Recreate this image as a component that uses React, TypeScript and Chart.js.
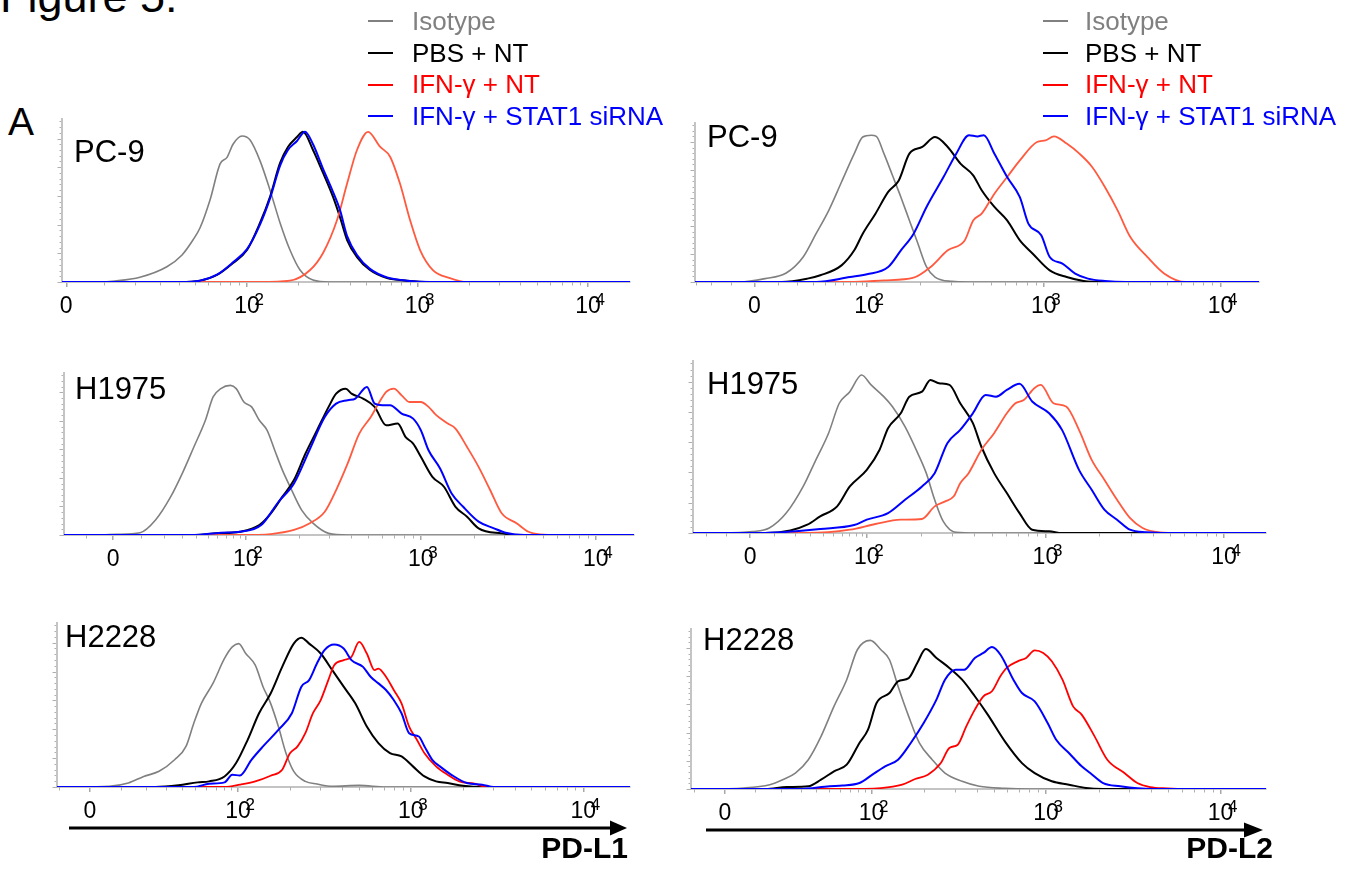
import React, { useEffect, useRef } from "react";
import { Chart, registerables } from "chart.js";

Chart.register(...registerables);

type Pt = [number, number];

// ---------------- data ----------------
const seriesNames = ["Isotype", "PBS + NT", "IFN-γ + NT", "IFN-γ + STAT1 siRNA"];
const cellLines = ["PC-9", "PC-9", "H1975", "H1975", "H2228", "H2228"];
const markerNames = ["PD-L1", "PD-L2"];
const tickLabels = ["0", "10^2", "10^3", "10^4"];
const tickValues = [1, 2, 3]; // display positions of 10², 10³, 10⁴ (the "0" tick is per panel)
// position of the "0" tick on each panel's display axis (10² = 1, 10³ = 2, 10⁴ = 3)
const zeroPositions = [-0.06, 0.363, 0.242, 0.347, 0.143, 0.16];

// x: display position (decades), y: % of axis height
const pc9L1Isotype: Pt[] = [[-0.1,0],[0.138,0],[0.226,0.6],[0.372,2.9],[0.53,9.3],[0.619,16.5],[0.683,25.6],[0.724,32.9],[0.783,50],[0.842,72],[0.883,76],[0.918,84],[0.971,89],[1.018,86.6],[1.076,74],[1.135,56],[1.194,36],[1.252,19.5],[1.311,7.3],[1.387,1.2],[1.487,0],[3.4,0]];
const pc9L1Pbs: Pt[] = [[-0.1,0],[0.607,0],[0.724,0.8],[0.824,4.3],[0.918,11.6],[1.0,19.5],[1.076,36],[1.135,52],[1.194,72.6],[1.24,82.3],[1.293,88.4],[1.328,91.6],[1.387,80.5],[1.446,66.5],[1.504,52],[1.545,39.6],[1.587,25.6],[1.645,15.2],[1.721,7.3],[1.821,2.4],[1.938,0.8],[2.073,0],[3.4,0]];
const pc9L1Ifn: Pt[] = [[-0.1,0],[1.076,0],[1.252,0.8],[1.37,7.3],[1.446,17.7],[1.528,37.8],[1.587,60],[1.645,80.5],[1.71,91.6],[1.78,82.5],[1.839,76.4],[1.897,60],[1.956,37.8],[2.015,19.5],[2.09,7.3],[2.19,2.4],[2.29,0],[3.4,0]];
const pc9L1Stat1: Pt[] = [[-0.1,0],[0.607,0],[0.724,0.8],[0.824,4.5],[0.918,12],[1.0,20],[1.076,35],[1.135,51],[1.194,71],[1.24,80.5],[1.293,86],[1.34,91.6],[1.387,84],[1.446,69],[1.504,55],[1.545,44],[1.587,28],[1.645,16.5],[1.721,8],[1.821,2.8],[1.938,0.8],[2.073,0],[3.4,0]];

const pc9L2Isotype: Pt[] = [[-0.1,0],[0.279,0],[0.423,2.1],[0.543,5.6],[0.639,15.6],[0.712,30.2],[0.784,44.8],[0.856,62.5],[0.928,80.2],[0.976,90.6],[1.024,91.7],[1.053,91],[1.096,80.2],[1.144,66.7],[1.192,53],[1.24,38.5],[1.288,24],[1.337,9.4],[1.385,3.1],[1.48,0.4],[1.577,0],[3.4,0]];
const pc9L2Pbs: Pt[] = [[-0.1,0],[0.519,0],[0.663,2.1],[0.736,4.2],[0.856,10.4],[0.928,19.8],[0.976,30.2],[1.048,42.7],[1.12,56.3],[1.18,63.5],[1.24,80.2],[1.313,84.4],[1.385,90.6],[1.457,84.4],[1.529,74],[1.601,66.7],[1.649,57.3],[1.721,46.9],[1.793,38.5],[1.865,26],[1.938,17.7],[2.034,7.3],[2.13,3.1],[2.226,0.6],[2.322,0],[3.4,0]];
const pc9L2Ifn: Pt[] = [[-0.1,0],[0.904,0],[1.096,1],[1.264,2.7],[1.36,9.4],[1.457,19.8],[1.553,26],[1.601,38.5],[1.649,42.7],[1.721,55.2],[1.793,65.6],[1.865,76],[1.962,87.5],[2.01,88.5],[2.058,91],[2.13,86.5],[2.202,80.2],[2.274,71.9],[2.346,59.4],[2.418,44.8],[2.49,28.1],[2.587,15.6],[2.683,5.2],[2.803,0],[3.4,0]];
const pc9L2Stat1: Pt[] = [[-0.1,0],[0.712,0],[0.904,3.1],[1.0,4.8],[1.12,9.4],[1.192,19.8],[1.264,30.2],[1.337,46.9],[1.433,65.6],[1.505,80.2],[1.577,91.7],[1.625,91],[1.661,91.7],[1.721,80.2],[1.793,65.6],[1.865,53],[1.913,36.5],[1.986,29.2],[2.034,15.6],[2.106,11.5],[2.178,5.2],[2.25,2.1],[2.346,0.6],[2.466,0],[3.4,0]];

const h1975L1Isotype: Pt[] = [[-0.1,0],[0.154,0],[0.264,0.4],[0.396,1.4],[0.484,9.2],[0.571,23.5],[0.637,37.8],[0.703,54],[0.769,70.4],[0.813,84.7],[0.857,89.8],[0.912,91.8],[0.945,89.8],[0.989,81.6],[1.033,78.6],[1.077,70.4],[1.121,64.3],[1.165,52],[1.209,39.8],[1.253,29.6],[1.319,15.3],[1.385,7.1],[1.473,1],[1.582,0],[3.4,0]];
const h1975L1Pbs: Pt[] = [[-0.1,0],[0.703,0],[0.835,1],[0.967,2],[1.077,6.1],[1.143,13.3],[1.209,23.5],[1.275,33.7],[1.341,50],[1.407,64.3],[1.473,78.6],[1.516,86.7],[1.571,89.8],[1.604,86.7],[1.67,83.7],[1.736,78.6],[1.802,67.3],[1.868,68.4],[1.912,60.2],[1.956,56.1],[2.0,48],[2.066,35.7],[2.132,29.6],[2.198,17.3],[2.264,11.2],[2.33,4.1],[2.462,1],[2.571,0],[3.4,0]];
const h1975L1Ifn: Pt[] = [[-0.1,0],[0.967,0],[1.143,0.6],[1.275,3.1],[1.363,7.1],[1.451,14.3],[1.516,27.6],[1.582,43.9],[1.648,62.2],[1.714,72.4],[1.758,80.6],[1.802,87.8],[1.846,89.8],[1.89,85.7],[1.934,81.6],[2.0,81.6],[2.044,78.6],[2.088,73.5],[2.154,68.4],[2.198,65.3],[2.264,54],[2.33,41.8],[2.396,27.6],[2.462,13.3],[2.549,7.1],[2.615,2],[2.681,0.4],[2.791,0],[3.4,0]];
const h1975L1Stat1: Pt[] = [[-0.1,0],[0.703,0],[0.857,1.4],[0.967,2],[1.088,6.1],[1.187,20.4],[1.275,31.6],[1.363,52],[1.451,72.4],[1.516,80.6],[1.582,82.7],[1.626,83.7],[1.692,90.8],[1.736,80.6],[1.78,79.6],[1.824,79.6],[1.89,74.5],[1.956,71.4],[2.0,64.3],[2.044,52],[2.11,40.8],[2.176,25.5],[2.242,17.3],[2.33,8.2],[2.418,4.1],[2.484,1.4],[2.593,0],[3.4,0]];

const h1975L2Isotype: Pt[] = [[-0.1,0],[0.192,0],[0.359,0.8],[0.454,2.9],[0.549,11.5],[0.644,26.9],[0.715,42.3],[0.786,57.7],[0.846,75],[0.905,81.7],[0.971,91.3],[1.024,85.6],[1.095,78.8],[1.143,73.1],[1.214,61.5],[1.285,46.2],[1.333,34.6],[1.38,19.2],[1.428,6.7],[1.499,0.4],[1.618,0],[3.4,0]];
const h1975L2Pbs: Pt[] = [[-0.1,0],[0.43,0],[0.572,1.5],[0.667,4.8],[0.739,9.6],[0.834,15.4],[0.905,26.9],[1.0,36.5],[1.071,48],[1.119,60.6],[1.19,69.2],[1.238,78.8],[1.309,81.7],[1.356,88.5],[1.404,86.5],[1.463,85.6],[1.523,75],[1.594,63.5],[1.641,50],[1.713,34.6],[1.784,23.1],[1.855,11.5],[1.926,1.9],[2.021,1],[2.093,0],[3.4,0]];
const h1975L2Ifn: Pt[] = [[-0.1,0],[0.667,0],[0.905,1.9],[1.048,5.2],[1.19,7.7],[1.309,8.1],[1.38,15.4],[1.439,18.3],[1.487,21.2],[1.523,28.8],[1.57,34.6],[1.641,48],[1.713,57.7],[1.784,69.2],[1.832,75],[1.879,76.9],[1.938,83.7],[1.974,85.6],[2.045,75],[2.116,73.1],[2.188,59.6],[2.259,42.3],[2.33,30.8],[2.401,19.2],[2.473,8.7],[2.544,2.9],[2.639,0.4],[2.758,0],[3.4,0]];
const h1975L2Stat1: Pt[] = [[-0.1,0],[0.43,0],[0.62,1.2],[0.739,2.3],[0.929,4.6],[1.0,7.7],[1.119,11.5],[1.214,19.2],[1.309,26.9],[1.38,34.6],[1.451,51.9],[1.523,59.6],[1.594,69.2],[1.665,79.8],[1.724,78.8],[1.784,82.7],[1.855,86.2],[1.926,76],[2.021,69.2],[2.093,59.6],[2.188,36.5],[2.259,25],[2.33,13.5],[2.401,7.7],[2.473,1.9],[2.568,0.4],[2.686,0],[3.4,0]];

const h2228L1Isotype: Pt[] = [[-0.1,0],[0.076,0],[0.254,0.4],[0.365,2.4],[0.454,6.4],[0.543,9.5],[0.633,16.5],[0.699,24.6],[0.744,38.6],[0.788,50.7],[0.855,62.8],[0.922,77.9],[0.967,84.9],[1.004,86.9],[1.045,80.9],[1.1,73.8],[1.145,60.8],[1.189,50.7],[1.234,36.6],[1.278,20.5],[1.323,9.5],[1.39,3.4],[1.457,1.8],[1.546,0.4],[1.702,1],[1.857,0],[3.4,0]];
const h2228L1Pbs: Pt[] = [[-0.1,0],[0.521,0],[0.655,1],[0.766,2.8],[0.833,3.4],[0.922,6.4],[0.989,14.5],[1.056,28.6],[1.122,44.7],[1.189,56.7],[1.256,72.8],[1.323,86.9],[1.367,90.5],[1.412,86.9],[1.479,80.9],[1.546,70.8],[1.612,60.8],[1.679,50.7],[1.746,36.6],[1.813,26.6],[1.88,20.5],[1.947,18.5],[2.013,12.5],[2.08,6.4],[2.147,3.4],[2.214,2.4],[2.303,0.8],[2.414,0],[3.4,0]];
const h2228L1Ifn: Pt[] = [[-0.1,0],[0.922,0],[1.011,1.4],[1.1,3.4],[1.189,6.8],[1.256,10.5],[1.301,20.5],[1.345,24.6],[1.39,32.6],[1.434,44.7],[1.479,52.7],[1.523,64.8],[1.557,73.8],[1.612,76.9],[1.657,78.9],[1.702,87.9],[1.746,80.9],[1.791,70.8],[1.813,71.8],[1.857,66.8],[1.902,58.8],[1.947,50.7],[1.991,36.6],[2.036,28.6],[2.08,20.5],[2.147,12.5],[2.214,7.4],[2.281,3.4],[2.37,2],[2.437,0],[3.4,0]];
const h2228L1Stat1: Pt[] = [[-0.1,0],[0.744,0],[0.833,2],[0.922,2.8],[0.967,7.4],[1.011,7],[1.078,16.5],[1.145,24.6],[1.234,34.6],[1.312,44.7],[1.367,60.8],[1.412,64.8],[1.457,74.8],[1.501,82.9],[1.557,86.3],[1.612,83.9],[1.657,76.9],[1.724,72.8],[1.768,66.8],[1.813,62.8],[1.857,58.8],[1.902,52.7],[1.947,44.7],[1.991,32.6],[2.047,30.6],[2.08,24.6],[2.125,16.5],[2.169,12.5],[2.236,7.4],[2.325,2.4],[2.414,1.4],[2.481,0],[3.4,0]];

const h2228L2Isotype: Pt[] = [[-0.1,0],[0.05,0],[0.27,0.6],[0.417,2.7],[0.491,5.8],[0.564,9.9],[0.638,18.2],[0.711,32.7],[0.785,51.3],[0.858,67.9],[0.919,86.5],[0.993,92.3],[1.054,86.5],[1.103,80.3],[1.152,63.8],[1.213,45.1],[1.274,28.6],[1.348,18.2],[1.421,9.9],[1.519,4.8],[1.617,1.7],[1.764,0.4],[1.911,0],[3.4,0]];
const h2228L2Pbs: Pt[] = [[-0.1,0],[0.393,0],[0.515,1.2],[0.638,1.7],[0.711,5.8],[0.785,11],[0.858,15.1],[0.931,28.6],[0.98,36.9],[1.029,53.4],[1.103,59.6],[1.152,66.9],[1.213,68.9],[1.262,78.3],[1.311,86.9],[1.372,81.4],[1.446,75.2],[1.519,67.9],[1.592,57.6],[1.666,46.2],[1.764,29.6],[1.862,16.1],[1.935,9.9],[2.033,4.8],[2.131,2.7],[2.229,0.6],[2.327,0],[3.4,0]];
const h2228L2Ifn: Pt[] = [[-0.1,0],[0.834,0],[1.054,0.6],[1.176,2.7],[1.25,6.2],[1.323,8.9],[1.397,16.1],[1.446,25.5],[1.494,27.5],[1.543,38.9],[1.592,49.3],[1.641,57.6],[1.69,60.7],[1.739,70.2],[1.776,75.4],[1.837,79.3],[1.886,81.4],[1.935,86.1],[1.984,84.5],[2.033,79.3],[2.094,67.9],[2.155,51.3],[2.204,46.2],[2.278,32.7],[2.351,18.2],[2.449,9.9],[2.523,3.7],[2.596,1.2],[2.694,0.4],[2.792,0],[3.4,0]];
const h2228L2Stat1: Pt[] = [[-0.1,0],[0.589,0],[0.76,1.7],[0.834,2.1],[0.931,3.7],[1.005,8.9],[1.078,14.1],[1.152,18.2],[1.225,28.6],[1.299,41],[1.372,55.5],[1.421,67.9],[1.482,74.1],[1.531,74.1],[1.592,81.4],[1.641,84.5],[1.69,88.2],[1.739,83.4],[1.813,67.9],[1.862,59.6],[1.935,54.4],[2.009,41],[2.058,30.6],[2.131,22.4],[2.204,14.1],[2.253,9.9],[2.327,3.7],[2.425,1.7],[2.523,0.4],[2.621,0],[3.4,0]];

const panelSeries: Pt[][][] = [
  [pc9L1Isotype, pc9L1Pbs, pc9L1Ifn, pc9L1Stat1],
  [pc9L2Isotype, pc9L2Pbs, pc9L2Ifn, pc9L2Stat1],
  [h1975L1Isotype, h1975L1Pbs, h1975L1Ifn, h1975L1Stat1],
  [h1975L2Isotype, h1975L2Pbs, h1975L2Ifn, h1975L2Stat1],
  [h2228L1Isotype, h2228L1Pbs, h2228L1Ifn, h2228L1Stat1],
  [h2228L2Isotype, h2228L2Pbs, h2228L2Ifn, h2228L2Stat1],
];

// ---------------- layout ----------------
const FONT = "'Liberation Sans', Arial, Helvetica, sans-serif";
const PAD_L = 30, PAD_R = 30, PAD_T = 6, PAD_B = 2, AXIS_H = 40;

const panelBoxes = [
  { left: 62, right: 630, top: 118, bottom: 282, dMin: -0.085, dMax: 3.246 },
  { left: 695, right: 1259, top: 122, bottom: 282, dMin: 0.027, dMax: 3.218 },
  { left: 64, right: 634, top: 372, bottom: 535, dMin: -0.039, dMax: 3.218 },
  { left: 693, right: 1266, top: 360, bottom: 533, dMin: 0.027, dMax: 3.235 },
  { left: 57, right: 630, top: 622, bottom: 787, dMin: -0.048, dMax: 3.27 },
  { left: 691, right: 1266, top: 628, bottom: 789, dMin: -0.034, dMax: 3.26 },
];
const nameLabelPos = [
  { left: 74, top: 136 }, { left: 707, top: 121 },
  { left: 75, top: 373 }, { left: 707, top: 368 },
  { left: 65, top: 621 }, { left: 703, top: 624 },
];

function minorTickPositions(z: number): number[] {
  const out: number[] = [];
  const k = Math.asinh(5);
  for (let v = 10; v <= 90; v += 10) {
    const t = Math.asinh(v / 20) / k;
    out.push(z + (1 - z) * t, z - (1 - z) * t);
  }
  for (let dec = 1; dec <= 3; dec++) {
    for (let m = 2; m <= 9; m++) out.push(dec + Math.log10(m));
  }
  return out;
}

const axisDecor = {
  id: "axisDecor",
  beforeDatasetsDraw(chart: any, _args: any, opts: any) {
    const { ctx, chartArea: a, scales } = chart;
    const x = scales.x, y = scales.y;
    ctx.save();
    ctx.strokeStyle = "#b0b0b0";
    ctx.lineWidth = 1;
    for (const v of minorTickPositions(opts.zero)) {
      if (v < x.min || v > x.max) continue;
      const px = Math.round(x.getPixelForValue(v)) + 0.5;
      ctx.beginPath();
      ctx.moveTo(px, a.bottom);
      ctx.lineTo(px, a.bottom + 3.5);
      ctx.stroke();
    }
    for (let i = 0; i * 3.5 <= 100.01; i++) {
      const py = Math.round(y.getPixelForValue(i * 3.5)) + 0.5;
      const len = i % 5 === 0 ? 4.5 : 2.5;
      ctx.beginPath();
      ctx.moveTo(a.left - len, py);
      ctx.lineTo(a.left, py);
      ctx.stroke();
    }
    ctx.strokeStyle = "#c4c4c4";
    ctx.lineWidth = 2;
    ctx.beginPath();
    ctx.moveTo(a.left, a.top);
    ctx.lineTo(a.left, a.bottom);
    ctx.stroke();
    ctx.restore();
  },
  afterDraw(chart: any) {
    // tick labels "0", "10²" ... drawn at the scale's tick positions
    const { ctx, chartArea: a, scales } = chart;
    const x = scales.x;
    ctx.save();
    ctx.fillStyle = "#000000";
    ctx.textBaseline = "alphabetic";
    x.ticks.forEach((t: any, i: number) => {
      const px = x.getPixelForValue(t.value);
      const [base, exp] = (tickLabels[i] ?? "").split("^");
      ctx.font = `23px ${FONT}`;
      ctx.textAlign = "center";
      ctx.fillText(base, px, a.bottom + 31);
      if (exp) {
        ctx.font = `17px ${FONT}`;
        ctx.textAlign = "left";
        ctx.fillText(exp, px + 7.5, a.bottom + 22.5);
      }
    });
    ctx.restore();
  },
};

function HistogramPanel({ index }: { index: number }) {
  const ref = useRef<HTMLCanvasElement | null>(null);
  const box = panelBoxes[index];
  const W = box.right - box.left + PAD_L + PAD_R;
  const H = box.bottom - box.top + PAD_T + AXIS_H + PAD_B;

  useEffect(() => {
    const canvas = ref.current;
    if (!canvas) return;
    const series = panelSeries[index];
    const z = zeroPositions[index];
    const red = index >= 4 ? "#ff0000" : "#ff5a3f";
    const colors = ["#808080", "#000000", red, "#0000ff"];
    const widths = [1.6, 2, 1.8, 2];
    const drawOrder = [3, 2, 1, 0];
    const datasets = drawOrder.map((i) => ({
      label: seriesNames[i],
      data: series[i].map(([px, py]) => ({ x: px, y: py })),
      borderColor: colors[i],
      backgroundColor: colors[i],
      borderWidth: widths[i],
      pointRadius: 0,
      fill: false,
      cubicInterpolationMode: "monotone" as const,
    }));
    const chart = new Chart(canvas, {
      type: "line",
      data: { datasets },
      options: {
        animation: false,
        responsive: false,
        maintainAspectRatio: false,
        devicePixelRatio: 1,
        events: [],
        layout: { padding: { left: PAD_L, right: PAD_R, top: PAD_T, bottom: PAD_B } },
        plugins: {
          legend: { display: false },
          tooltip: { enabled: false },
          axisDecor: { zero: z },
        } as any,
        scales: {
          x: {
            type: "linear",
            min: box.dMin,
            max: box.dMax,
            afterBuildTicks: (scale: any) => {
              scale.ticks = [z, ...tickValues].map((v) => ({ value: v }));
            },
            afterFit: (scale: any) => {
              scale.height = AXIS_H;
            },
            ticks: { display: false, autoSkip: false, maxRotation: 0 },
            grid: {
              display: true,
              drawOnChartArea: false,
              drawTicks: true,
              tickLength: 5,
              color: "#a8a8a8",
              lineWidth: 1.5,
            },
            border: { display: true, color: "#c4c4c4", width: 2 },
          },
          y: { display: false, min: 0, max: 100 },
        },
      } as any,
      plugins: [axisDecor],
    });
    return () => chart.destroy();
  }, [index]);

  return (
    <canvas
      ref={ref}
      width={W}
      height={H}
      style={{ position: "absolute", left: box.left - PAD_L, top: box.top - PAD_T, width: W, height: H }}
    />
  );
}

const legendColors = ["#808080", "#000000", "#ff0000", "#0000ff"];
const legendRowCapTops = [11.7, 43.3, 75, 106.7];

function Legend({ lineLeft, textLeft }: { lineLeft: number; textLeft: number }) {
  return (
    <>
      {seriesNames.map((name, i) => (
        <React.Fragment key={name}>
          <div
            style={{
              position: "absolute",
              left: lineLeft,
              top: legendRowCapTops[i] + 8.5,
              width: 25,
              height: 2,
              background: legendColors[i],
            }}
          />
          <div
            style={{
              position: "absolute",
              left: textLeft,
              top: legendRowCapTops[i] - 3.6,
              fontFamily: FONT,
              fontSize: 26,
              lineHeight: "26px",
              whiteSpace: "nowrap",
              color: legendColors[i],
            }}
          >
            {name}
          </div>
        </React.Fragment>
      ))}
    </>
  );
}

export default function App() {
  return (
    <div
      style={{
        position: "absolute",
        left: 0,
        top: 0,
        width: 1347,
        height: 876,
        overflow: "hidden",
        background: "#ffffff",
        fontFamily: FONT,
      }}
    >
      <div style={{ position: "absolute", left: 0, top: -26, fontSize: 45, lineHeight: "45px", whiteSpace: "nowrap", color: "#000" }}>
        Figure 5:
      </div>
      <div style={{ position: "absolute", left: 8, top: 102, fontSize: 39, lineHeight: "39px", color: "#000" }}>A</div>

      {panelBoxes.map((_, i) => (
        <HistogramPanel key={i} index={i} />
      ))}

      {nameLabelPos.map((p, i) => (
        <div
          key={"n" + i}
          style={{ position: "absolute", left: p.left, top: p.top, fontSize: 31, lineHeight: "31px", whiteSpace: "nowrap", color: "#000" }}
        >
          {cellLines[i]}
        </div>
      ))}

      <Legend lineLeft={368} textLeft={412} />
      <Legend lineLeft={1043} textLeft={1085} />

      <svg width={1347} height={876} style={{ position: "absolute", left: 0, top: 0, pointerEvents: "none" }}>
        <line x1={69} y1={828} x2={612} y2={828} stroke="#000" strokeWidth={3} />
        <polygon points="610,820.5 627,828 610,835.5" fill="#000" />
        <line x1={706} y1={830} x2={1246} y2={830} stroke="#000" strokeWidth={3} />
        <polygon points="1244,822.5 1263,830 1244,837.5" fill="#000" />
      </svg>

      <div style={{ position: "absolute", right: 1347 - 628, top: 833, fontSize: 30, lineHeight: "30px", fontWeight: "bold", whiteSpace: "nowrap" }}>
        {markerNames[0]}
      </div>
      <div style={{ position: "absolute", right: 1347 - 1273, top: 833, fontSize: 30, lineHeight: "30px", fontWeight: "bold", whiteSpace: "nowrap" }}>
        {markerNames[1]}
      </div>
    </div>
  );
}
